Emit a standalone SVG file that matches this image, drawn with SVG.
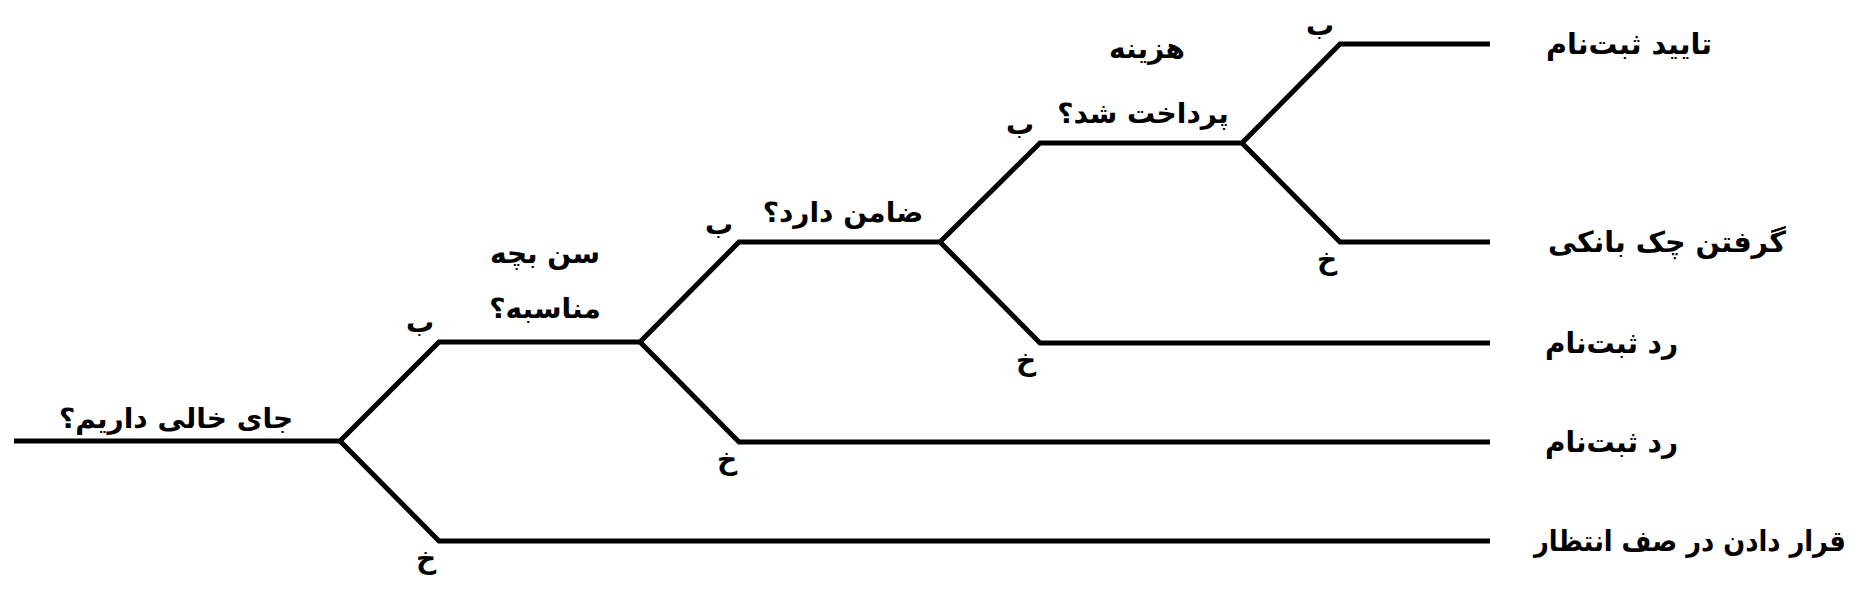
<svg xmlns="http://www.w3.org/2000/svg" width="1864" height="592" viewBox="0 0 1864 592">
<style>
.ln{fill:none;stroke:#000;stroke-width:5;stroke-linejoin:miter;stroke-linecap:butt}
text{font-family:"DejaVu Sans","Noto Sans",sans-serif;fill:#000}
.q{font-size:28px;font-weight:bold;direction:rtl;text-anchor:middle}
.r{font-size:29px;font-weight:bold;direction:rtl;text-anchor:end}
.yn{font-size:28px;font-weight:bold;text-anchor:middle}
</style>
<rect width="1864" height="592" fill="#fff"/>
<g id="connectors">
<path class="ln" d="M14,441 H340 L439,342 H640 L739,242 H940 L1040,143 H1242 L1340,44 H1490"/>
<path class="ln" d="M340,441 L439,541 H1490"/>
<path class="ln" d="M640,342 L739,442 H1490"/>
<path class="ln" d="M940,242 L1040,343 H1490"/>
<path class="ln" d="M1242,143 L1340,242 H1490"/>
</g>
<g id="q1"><text class="q" x="176" y="428">جای خالی داریم؟</text></g>
<g id="q2"><text class="q" x="545" y="263">سن بچه</text><text class="q" x="545" y="318">مناسبه؟</text></g>
<g id="q3"><text class="q" x="843" y="222">ضامن دارد؟</text></g>
<g id="q4"><text class="q" x="1147" y="58">هزینه</text><text class="q" x="1143" y="123">پرداخت شد؟</text></g>
<g id="labels">
<text class="yn" x="420" y="332">ب</text>
<text class="yn" x="426" y="568">خ</text>
<text class="yn" x="719" y="234">ب</text>
<text class="yn" x="727" y="469">خ</text>
<text class="yn" x="1020" y="134">ب</text>
<text class="yn" x="1026" y="370">خ</text>
<text class="yn" x="1320" y="35">ب</text>
<text class="yn" x="1327" y="269">خ</text>
</g>
<g id="r1"><text class="r" x="1546" y="54" textLength="166" lengthAdjust="spacingAndGlyphs">تایید ثبت‌نام</text></g>
<g id="r2"><text class="r" x="1548" y="252" textLength="238" lengthAdjust="spacingAndGlyphs">گرفتن چک بانکی</text></g>
<g id="r3"><text class="r" x="1545" y="353" textLength="133" lengthAdjust="spacingAndGlyphs">رد ثبت‌نام</text></g>
<g id="r4"><text class="r" x="1545" y="452" textLength="133" lengthAdjust="spacingAndGlyphs">رد ثبت‌نام</text></g>
<g id="r5"><text class="r" x="1534" y="551" textLength="312" lengthAdjust="spacingAndGlyphs">قرار دادن در صف انتظار</text></g>
</svg>
